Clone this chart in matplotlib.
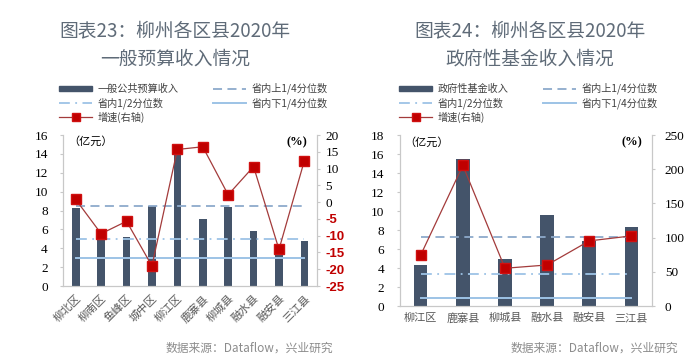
import matplotlib.pyplot as plt
from matplotlib.lines import Line2D
from matplotlib.patches import Patch

plt.rcParams['font.family'] = ['Liberation Serif', 'Noto Sans CJK SC']
plt.rcParams['axes.unicode_minus'] = False

# data: chart 23
gen_districts = ['柳北区', '柳南区', '鱼峰区', '城中区', '柳江区', '鹿寨县', '柳城县', '融水县', '融安县', '三江县']
gen_income = [8.3, 5.9, 5.2, 8.45, 14.5, 7.1, 8.4, 5.8, 4.3, 4.8]
gen_growth = [0.8, -9.4, -5.7, -19.0, 15.7, 16.5, 2.2, 10.6, -14.1, 12.4]
gen_upper_q = 8.5
gen_median = 5.0
gen_lower_q = 3.0

# data: chart 24
fund_districts = ['柳江区', '鹿寨县', '柳城县', '融水县', '融安县', '三江县']
fund_income = [4.35, 15.5, 5.0, 9.6, 6.85, 8.3]
fund_growth = [74.7, 205.5, 55.2, 60.0, 95.2, 102.5]
fund_upper_q = 7.28
fund_median = 3.38
fund_lower_q = 0.81

BAR = '#44546a'
RED_LINE = '#a33b3b'
RED_MK = '#c00000'
Q_UP = '#8eaacb'
Q_MID = '#9dc3e6'
Q_LOW = '#9dc3e6'
SPINE = '#c8c8c8'
TITLE = '#5f6b78'

fig = plt.figure(figsize=(7, 3.63), dpi=100)


def draw(ax, cats, income, growth, up, mid, low, ylim, yticks, y2lim, y2ticks,
         rot, red_ticks, width, pad_r):
    x = list(range(len(cats)))
    ax.bar(x, income, width=width, color=BAR, zorder=2)
    ax.plot(x, [up] * len(x), color=Q_UP, lw=1.3, ls=(0, (5, 3)), zorder=3)
    ax.plot(x, [mid] * len(x), color=Q_MID, lw=1.3, ls=(0, (6, 3, 1, 3)), zorder=3)
    ax.plot(x, [low] * len(x), color=Q_LOW, lw=1.4, zorder=3)
    ax.set_xlim(-0.5, len(cats) - 0.5)
    ax.set_ylim(*ylim)
    ax.set_yticks(yticks)
    ax.set_xticks(x)
    if rot:
        ax.set_xticklabels(cats, rotation=45, ha='right', rotation_mode='anchor',
                           fontsize=8, color='#595959', family='Noto Sans CJK SC')
    else:
        ax.set_xticklabels(cats, fontsize=8, color='#595959', family='Noto Sans CJK SC')
    ax.tick_params(axis='x', length=0, pad=5)
    ax.tick_params(axis='y', length=2, color=SPINE, labelsize=9.5, pad=9)
    ax.spines['top'].set_visible(False)
    for s in ['left', 'bottom', 'right']:
        ax.spines[s].set_color(SPINE)
    ax.text(0.02, 0.99, '（亿元）', transform=ax.transAxes, fontsize=8,
            va='top', ha='left', family='Noto Sans CJK SC')

    ax2 = ax.twinx()
    ax2.plot(x, growth, color=RED_LINE, lw=0.9, marker='s', ms=6.5,
             mfc=RED_MK, mec='#d01010', zorder=4)
    ax2.set_ylim(*y2lim)
    ax2.set_yticks(y2ticks)
    ax2.tick_params(axis='y', length=2, color=SPINE, labelsize=9.5, pad=pad_r)
    ax2.spines['top'].set_visible(False)
    for s in ['left', 'bottom', 'right']:
        ax2.spines[s].set_color(SPINE)
    if red_ticks:
        for t, v in zip(ax2.get_yticklabels(), y2ticks):
            if v < 0:
                t.set_color(RED_MK)
                t.set_family('Liberation Sans')
                t.set_fontweight('bold')
    ax2.text(0.96, 0.99, '(%)', transform=ax.transAxes, fontsize=9,
             va='top', ha='right', fontweight='bold')
    ax2.set_xlim(-0.5, len(cats) - 0.5)
    return ax2


ax1 = fig.add_axes([0.09, 0.212, 0.363, 0.416])
draw(ax1, gen_districts, gen_income, gen_growth, gen_upper_q, gen_median, gen_lower_q,
     (0, 16), range(0, 17, 2), (-25, 20), range(-25, 21, 5), True, True, 0.3, 4)

ax3 = fig.add_axes([0.571, 0.157, 0.361, 0.471])
draw(ax3, fund_districts, fund_income, fund_growth, fund_upper_q, fund_median, fund_lower_q,
     (0, 18), range(0, 19, 2), (0, 250), range(0, 251, 50), False, False, 0.32, 7)

# titles
for cx, l1, l2 in [(0.25, '图表23：柳州各区县2020年', '一般预算收入情况'),
                   (0.757, '图表24：柳州各区县2020年', '政府性基金收入情况')]:
    fig.text(cx, 0.915, l1, ha='center', va='center', fontsize=13.5,
             color=TITLE, family='Noto Sans CJK SC', fontweight='medium')
    fig.text(cx, 0.838, l2, ha='center', va='center', fontsize=13.5,
             color=TITLE, family='Noto Sans CJK SC', fontweight='medium')


def legend(x0, first):
    handles = [
        Patch(color=BAR),
        Line2D([], [], color=Q_MID, lw=1.3, ls=(0, (6, 3, 1, 3))),
        Line2D([], [], color=RED_LINE, lw=0.9, marker='s', ms=5.5, mfc=RED_MK, mec='#d01010'),
        Line2D([], [], color=Q_UP, lw=1.3, ls=(0, (5, 3))),
        Line2D([], [], color=Q_LOW, lw=1.4),
    ]
    labels = [first, '省内1/2分位数', '增速(右轴)', '省内上1/4分位数', '省内下1/4分位数']
    leg = fig.legend(handles, labels, loc='upper left', bbox_to_anchor=(x0, 1 - 83 / 363),
                     ncol=2, frameon=False, handlelength=3.3,
                     handleheight=0.5, labelspacing=0.3, columnspacing=3.4,
                     borderpad=0, borderaxespad=0, handletextpad=0.5,
                     prop={'family': 'Noto Sans CJK SC', 'size': 7.3})
    for t in leg.get_texts():
        t.set_color('#404040')


legend(59 / 700, '一般公共预算收入')
legend(399 / 700, '政府性基金收入')

for xr in (333 / 700, 678 / 700):
    fig.text(xr, 1 - 348 / 363, '数据来源：Dataflow，兴业研究', ha='right', va='center',
             fontsize=8.5, color='#8c8c8c', family='Noto Sans CJK SC')

fig.savefig('out.png', dpi=100, facecolor='white')
